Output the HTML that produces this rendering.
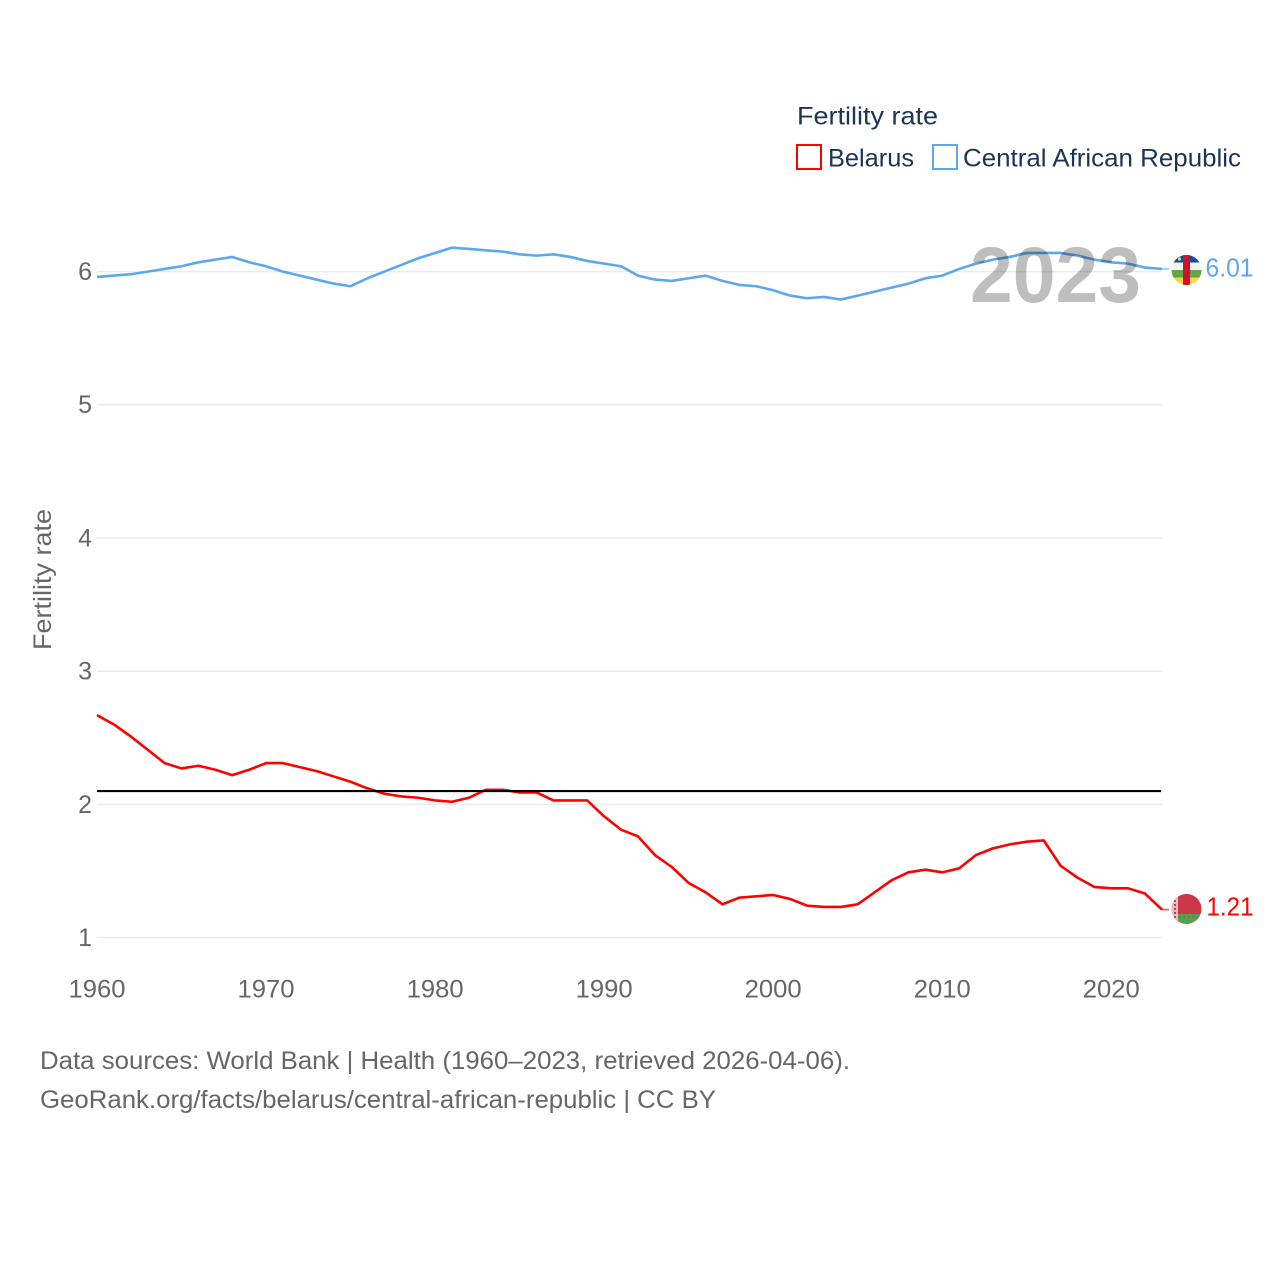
<!DOCTYPE html>
<html lang="en">
<head>
<meta charset="utf-8">
<title>Fertility rate: Belarus vs Central African Republic</title>
<style>
html,body{margin:0;padding:0;background:#fff;}
svg{display:block;font-family:"Liberation Sans",sans-serif;}
</style>
</head>
<body>
<svg id="chart" xmlns="http://www.w3.org/2000/svg" width="1280" height="1280" viewBox="0 0 1280 1280">
  <defs>
    <clipPath id="clip-car"><circle cx="1186.5" cy="270" r="15"/></clipPath>
    <clipPath id="clip-blr"><circle cx="1186.5" cy="909" r="15"/></clipPath>
  </defs>
  <rect x="0" y="0" width="1280" height="1280" fill="#fff"/>

  <g id="grid"></g>
  <g id="yticks"></g>
  <g id="xticks"></g>

  <text transform="translate(51,650) rotate(-90)" font-size="25" fill="#666" textLength="141" lengthAdjust="spacingAndGlyphs">Fertility rate</text>

  <g id="series"></g>

  <text x="970" y="302" font-size="79" font-weight="bold" fill="#000" opacity="0.25" textLength="171" lengthAdjust="spacingAndGlyphs">2023</text>

  <g>
    <text x="797" y="124.5" font-size="25" fill="#1a3357" textLength="141" lengthAdjust="spacingAndGlyphs">Fertility rate</text>
    <g>
      <rect x="797" y="145" width="24" height="24" fill="none" stroke="#ff0000" stroke-width="2"/>
      <text x="828" y="166.5" font-size="25" fill="#1a3357" textLength="86" lengthAdjust="spacingAndGlyphs">Belarus</text>
    </g>
    <g>
      <rect x="933" y="145" width="24" height="24" fill="none" stroke="#5ca7ee" stroke-width="2"/>
      <text x="963" y="166.5" font-size="25" fill="#1a3357" textLength="278" lengthAdjust="spacingAndGlyphs">Central African Republic</text>
    </g>
  </g>

  <g clip-path="url(#clip-car)">
    <rect x="1171" y="255" width="31" height="7.5" fill="#0f4fa0"/>
    <rect x="1171" y="262.5" width="31" height="7.5" fill="#f2f2f2"/>
    <rect x="1171" y="270" width="31" height="7.5" fill="#5fa845"/>
    <rect x="1171" y="277.5" width="31" height="7.5" fill="#fdd24f"/>
    <rect x="1183" y="255" width="7" height="30" fill="#d2102c"/>
    <circle cx="1179.5" cy="259" r="1.6" fill="#f5d76e"/>
  </g>
  <g clip-path="url(#clip-blr)">
    <rect x="1171" y="894" width="31" height="20" fill="#c9374a"/>
    <rect x="1171" y="914" width="31" height="10" fill="#5d9c4c"/>
    <rect x="1171" y="894" width="7" height="30" fill="#efb9bf"/>
    <path d="M1175 896v26" stroke="#c9374a" stroke-width="2" stroke-dasharray="2 2" fill="none"/>
    <path d="M1179 917h22" stroke="#3f7a5a" stroke-width="1.2" stroke-dasharray="1.5 3" fill="none"/>
  </g>

  <text x="1205.5" y="276.5" font-size="25.5" fill="#5ca7ee" textLength="48" lengthAdjust="spacingAndGlyphs">6.01</text>
  <text x="1206.5" y="915.5" font-size="25.5" fill="#ff0000" textLength="47" lengthAdjust="spacingAndGlyphs">1.21</text>

  <text x="40" y="1069" font-size="25" fill="#666" textLength="810" lengthAdjust="spacingAndGlyphs">Data sources: World Bank | Health (1960–2023, retrieved 2026-04-06).</text>
  <a><text x="40" y="1108" font-size="25" fill="#666" textLength="676" lengthAdjust="spacingAndGlyphs">GeoRank.org/facts/belarus/central-african-republic | CC BY</text></a>
</svg>
<script>
const years = [1960,1961,1962,1963,1964,1965,1966,1967,1968,1969,1970,1971,1972,1973,1974,1975,1976,1977,1978,1979,1980,1981,1982,1983,1984,1985,1986,1987,1988,1989,1990,1991,1992,1993,1994,1995,1996,1997,1998,1999,2000,2001,2002,2003,2004,2005,2006,2007,2008,2009,2010,2011,2012,2013,2014,2015,2016,2017,2018,2019,2020,2021,2022,2023];
const belarus = [2.67,2.60,2.51,2.41,2.31,2.27,2.29,2.26,2.22,2.26,2.31,2.31,2.28,2.25,2.21,2.17,2.12,2.08,2.06,2.05,2.03,2.02,2.05,2.11,2.11,2.09,2.09,2.03,2.03,2.03,1.91,1.81,1.76,1.62,1.53,1.41,1.34,1.25,1.30,1.31,1.32,1.29,1.24,1.23,1.23,1.25,1.34,1.43,1.49,1.51,1.49,1.52,1.62,1.67,1.70,1.72,1.73,1.54,1.45,1.38,1.37,1.37,1.33,1.21];
const centralAfricanRepublic = [5.96,5.97,5.98,6.00,6.02,6.04,6.07,6.09,6.11,6.07,6.04,6.00,5.97,5.94,5.91,5.89,5.95,6.00,6.05,6.10,6.14,6.18,6.17,6.16,6.15,6.13,6.12,6.13,6.11,6.08,6.06,6.04,5.97,5.94,5.93,5.95,5.97,5.93,5.90,5.89,5.86,5.82,5.80,5.81,5.79,5.82,5.85,5.88,5.91,5.95,5.97,6.02,6.06,6.09,6.11,6.14,6.14,6.14,6.12,6.09,6.07,6.06,6.03,6.02];
const referenceLevel = [2.1];
const yTickValues = [1,2,3,4,5,6];
const xTickValues = [1960,1970,1980,1990,2000,2010,2020];

const SVGNS = 'http://www.w3.org/2000/svg';
const xOf = function (year) { return 97 + (year - 1960) * (1162 - 97) / 63; };
const yOf = function (v) { return 937.6 - (v - 1) * 133.2; };

function make(tag, attrs, parent) {
  const el = document.createElementNS(SVGNS, tag);
  Object.keys(attrs).forEach(function (k) { el.setAttribute(k, attrs[k]); });
  parent.appendChild(el);
  return el;
}

const gridGroup = document.getElementById('grid');
const yGroup = document.getElementById('yticks');
const xGroup = document.getElementById('xticks');
const seriesGroup = document.getElementById('series');

yTickValues.forEach(function (v) {
  const line = make('line', {x1: 97, x2: 1162, y1: yOf(v), y2: yOf(v), stroke: '#ebebeb', 'stroke-width': 1.5}, gridGroup);
  
  
  const t = make('text', {x: 92, y: yOf(v) + 8.4, 'text-anchor': 'end', 'font-size': 25, fill: '#666'}, yGroup);
  t.textContent = String(v);
  
  
});

xTickValues.forEach(function (year) {
  const t = make('text', {x: xOf(year), y: 997.5, 'text-anchor': 'middle', 'font-size': 25, fill: '#666', textLength: 57, lengthAdjust: 'spacingAndGlyphs'}, xGroup);
  t.textContent = String(year);
  
  
});

function pathFor(values) {
  return values.map(function (v, i) {
    return (i ? 'L' : 'M') + xOf(years[i]).toFixed(2) + ' ' + yOf(v).toFixed(2);
  }).join(' ');
}

function lastY(values) { return yOf(values[values.length - 1]); }

const carLine = make('path', {d: pathFor(centralAfricanRepublic), fill: 'none', stroke: '#5ca7ee', 'stroke-width': 2.6, 'stroke-linejoin': 'round'}, seriesGroup);



const belarusLine = make('path', {d: pathFor(belarus), fill: 'none', stroke: '#ff0000', 'stroke-width': 2.6, 'stroke-linejoin': 'round'}, seriesGroup);



const carConnector = make('line', {x1: 1162, x2: 1169, y1: lastY(centralAfricanRepublic), y2: lastY(centralAfricanRepublic), stroke: '#5ca7ee', 'stroke-width': 1.5, opacity: 0.7}, seriesGroup);



const belarusConnector = make('line', {x1: 1162, x2: 1169, y1: lastY(belarus), y2: lastY(belarus), stroke: '#ff0000', 'stroke-width': 1.5, opacity: 0.7}, seriesGroup);



const refLine = make('line', {x1: 97, x2: 1161, y1: yOf(referenceLevel[0]), y2: yOf(referenceLevel[0]), stroke: '#000', 'stroke-width': 2.2}, seriesGroup);


</script>
</body>
</html>
